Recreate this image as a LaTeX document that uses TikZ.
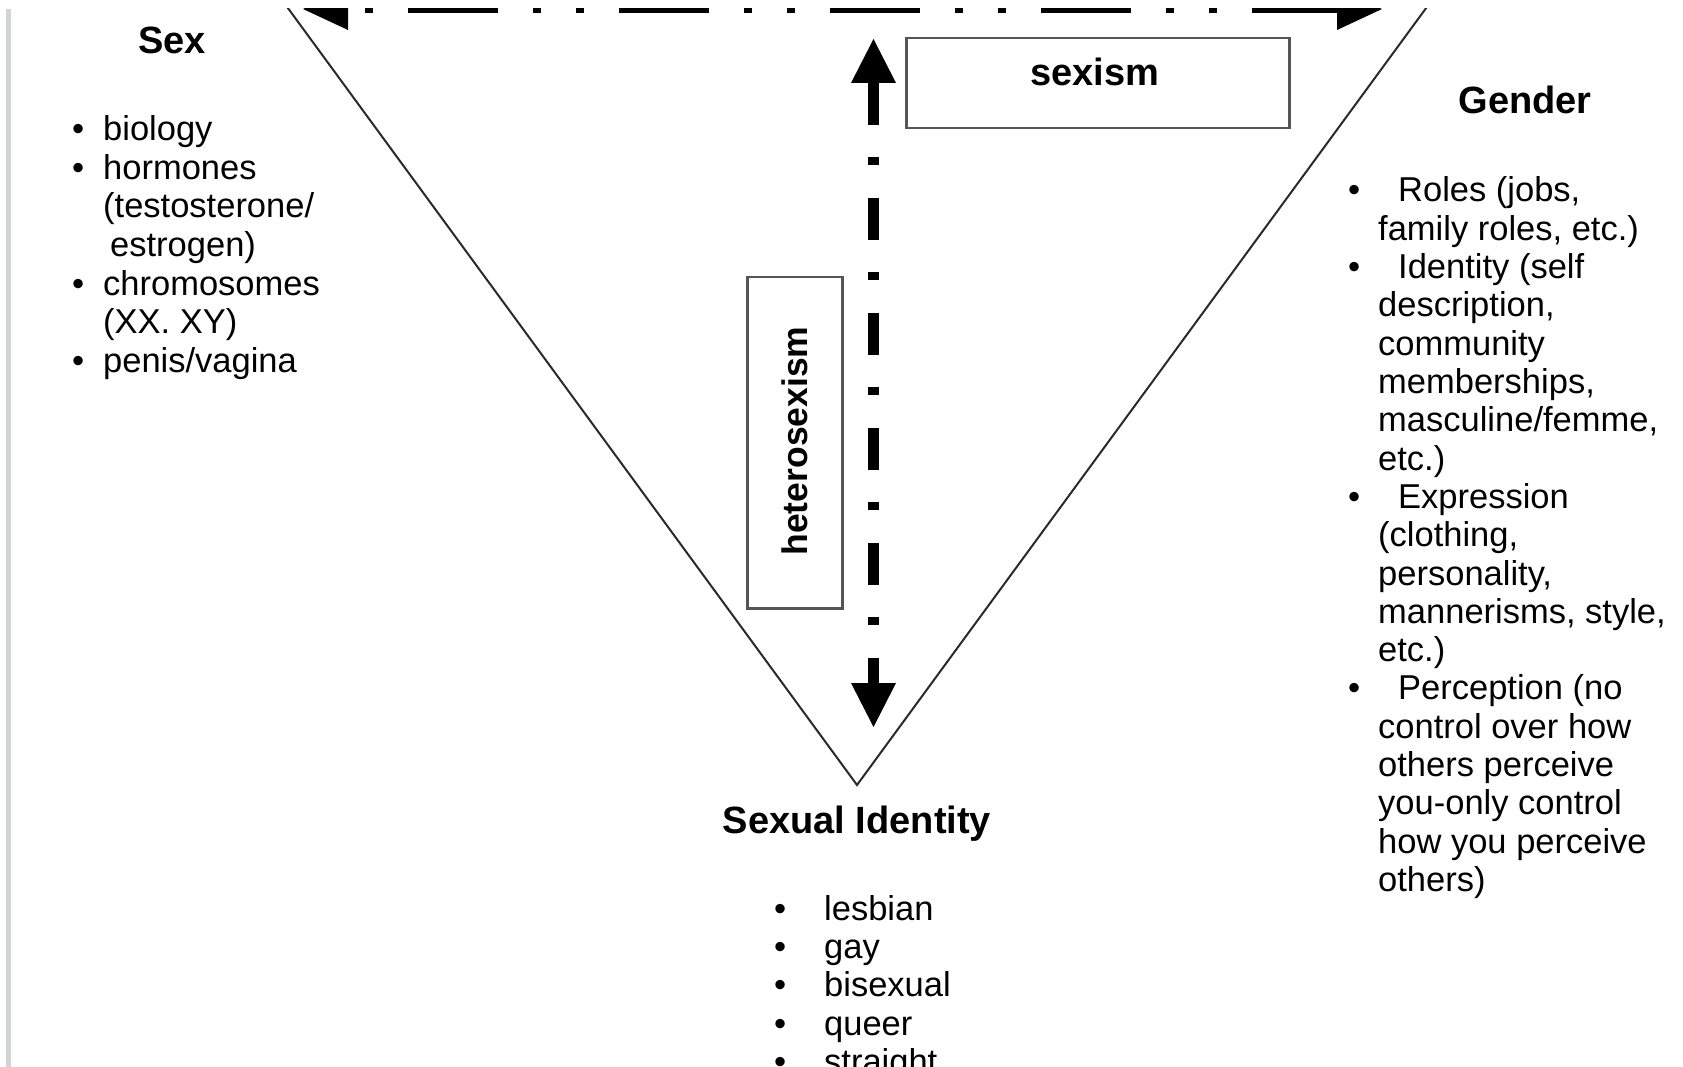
\documentclass[tikz,border=0pt]{standalone}
\usepackage{fontspec}
\setmainfont{Liberation Sans}
\usetikzlibrary{arrows.meta}

\definecolor{edgegray}{HTML}{2A2A2A}
\definecolor{boxgray}{HTML}{555555}
\definecolor{bargray}{HTML}{D2D5D5}

% bullet hung to the left of a list line
\newcommand{\itembullet}[1]{\llap{\textbullet\hspace{#1}}}

\tikzset{
  heading/.style={font=\fontsize{38}{42}\selectfont\bfseries, inner sep=0pt, anchor=base},
  item/.style={font=\fontsize{34.5}{38.4}\selectfont, inner sep=0pt, anchor=base west},
  side/.style={draw=edgegray, line width=2pt, line join=miter},
  label box/.style={draw=boxgray, line width=2.5pt, fill=white, inner sep=0pt},
  boxtext/.style={font=\fontsize{38}{42}\selectfont\bfseries, inner sep=0pt},
  hlinkstyle/.style={line width=9pt,
    dash pattern=on 90pt off 35pt on 8pt off 35pt on 8pt off 35pt, dash phase=151pt,
    {Triangle[length=45pt,width=42pt,line width=0pt]}-{Triangle[length=45pt,width=42pt,line width=0pt]}},
  vlinkstyle/.style={line width=11pt,
    dash pattern=on 42pt off 32pt on 8pt off 33pt,
    {Triangle[length=44pt,width=45pt,line width=0pt]}-{Triangle[length=44pt,width=45pt,line width=0pt]}}
}

\begin{document}
\begin{tikzpicture}[x=1pt,y=-1pt]
\useasboundingbox (0,0) rectangle (1683,1067);
\fill[white] (0,0) rectangle (1683,1067);

\begin{scope}
\clip (0,9) rectangle (1683,1067);

% margin rule at the left
\fill[bargray] (6,9) rectangle (11,1067);

% the inverted triangle
\coordinate (tl) at (282,0);
\coordinate (apex) at (857,785);
\coordinate (tr) at (1432,0);
\draw[side] (tl) -- (apex) -- (tr);

% sex <-> gender
\coordinate (sexend) at (303,9);
\coordinate (genderend) at (1382,9);
\draw[hlinkstyle] (sexend) -- (genderend);

% top edge <-> sexual identity
\coordinate (topend) at (873.5,39);
\coordinate (identityend) at (873.5,727);
\draw[vlinkstyle] (topend) -- (identityend);

% labels on the connectors
\node[label box, minimum width=383pt, minimum height=90pt, anchor=north west] (sexismbox) at (905,37) {};
\node[boxtext, anchor=base] (sexismlabel) at (1095,86) {sexism};

\node[label box, minimum width=95pt, minimum height=331pt, anchor=north west] (heterobox) at (746,276) {};
\node[boxtext, font=\fontsize{35.5}{40}\selectfont\bfseries, rotate=90] (heterolabel) at (795,441) {heterosexism};

% Sex
\node[heading] (sex) at (172,54) {Sex};
\node[item] (sex1) at (103,141)   {\itembullet{19pt}biology};
\node[item] (sex2) at (103,179.5) {\itembullet{19pt}hormones};
\node[item] (sex3) at (103,218)   {(testosterone/};
\node[item] (sex4) at (110,256.5) {estrogen)};
\node[item] (sex5) at (103,295)   {\itembullet{19pt}chromosomes};
\node[item] (sex6) at (103,333.5) {(XX. XY)};
\node[item] (sex7) at (103,372)   {\itembullet{19pt}penis/vagina};

% Gender
\node[heading] (gender) at (1525,114) {Gender};
\node[item] (g1)  at (1398,202)   {\itembullet{38pt}Roles (jobs,};
\node[item] (g2)  at (1378,240.3) {family roles, etc.)};
\node[item] (g3)  at (1398,278.6) {\itembullet{38pt}Identity (self};
\node[item] (g4)  at (1378,316.9) {description,};
\node[item] (g5)  at (1378,355.2) {community};
\node[item] (g6)  at (1378,393.5) {memberships,};
\node[item] (g7)  at (1378,431.8) {masculine/femme,};
\node[item] (g8)  at (1378,470.1) {etc.)};
\node[item] (g9)  at (1398,508.4) {\itembullet{38pt}Expression};
\node[item] (g10) at (1378,546.7) {(clothing,};
\node[item] (g11) at (1378,585)   {personality,};
\node[item] (g12) at (1378,623.3) {mannerisms, style,};
\node[item] (g13) at (1378,661.6) {etc.)};
\node[item] (g14) at (1398,699.9) {\itembullet{38pt}Perception (no};
\node[item] (g15) at (1378,738.2) {control over how};
\node[item] (g16) at (1378,776.5) {others perceive};
\node[item] (g17) at (1378,814.8) {you-only control};
\node[item] (g18) at (1378,853.1) {how you perceive};
\node[item] (g19) at (1378,891.4) {others)};

% Sexual Identity
\node[heading] (identity) at (857,833) {Sexual Identity};
\node[item] (si1) at (824,920)    {\itembullet{38pt}lesbian};
\node[item] (si2) at (824,958.4)  {\itembullet{38pt}gay};
\node[item] (si3) at (824,996.8)  {\itembullet{38pt}bisexual};
\node[item] (si4) at (824,1035.2) {\itembullet{38pt}queer};
\node[item] (si5) at (824,1073.6) {\itembullet{38pt}straight};
\end{scope}
\end{tikzpicture}
\end{document}
